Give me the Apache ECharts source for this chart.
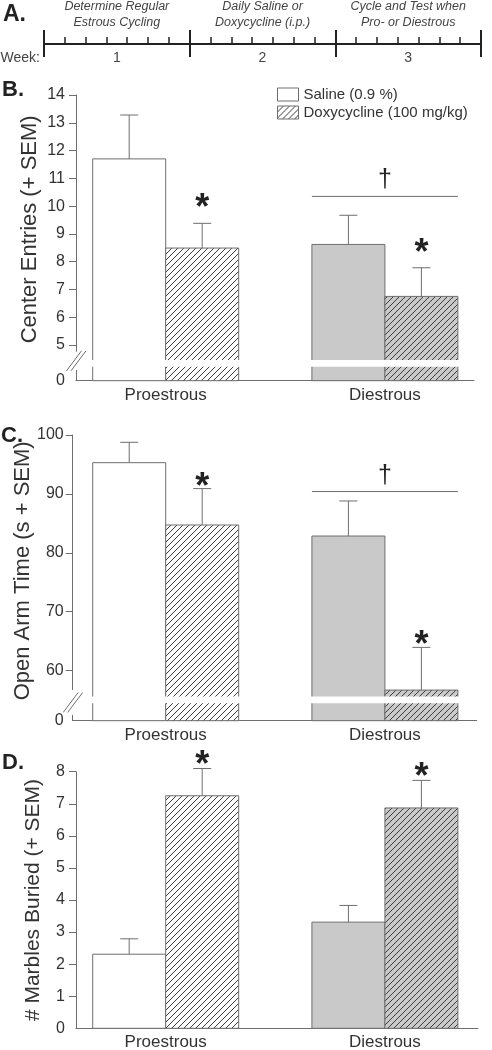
<!DOCTYPE html>
<html><head><meta charset="utf-8">
<script src="https://cdn.jsdelivr.net/npm/echarts@6/dist/echarts.min.js"></script>
<style>html,body{margin:0;padding:0;background:#fff}#c{width:492px;height:1050px}</style>
</head><body><div id="c"></div>
<script>
// ---------- data ----------
const groups = ['Proestrous', 'Diestrous'];
const weeks = ['1', '2', '3'];
const weekTasks = ['Determine Regular\nEstrous Cycling', 'Daily Saline or\nDoxycycline (i.p.)', 'Cycle and Test when\nPro- or Diestrous'];
const seriesNames = ['Saline (0.9 %)', 'Doxycycline (100 mg/kg)'];

const entriesSaline = [11.70, 8.62];
const entriesSalineSem = [1.58, 1.05];
const entriesDoxy = [8.49, 6.75];
const entriesDoxySem = [0.89, 1.03];
const entriesTicks = [5, 6, 7, 8, 9, 10, 11, 12, 13, 14];
const entriesStars = [1, 1];
const entriesDagger = 10.35;   // bracket level over Diestrous

const openArmSaline = [95.3, 82.85];
const openArmSalineSem = [3.46, 5.95];
const openArmDoxy = [84.72, 56.7];
const openArmDoxySem = [6.18, 7.25];
const openArmTicks = [60, 70, 80, 90, 100];
const openArmStars = [1, 1];
const openArmDagger = 90.4;

const marblesSaline = [2.31, 3.31];
const marblesSalineSem = [0.48, 0.52];
const marblesDoxy = [7.25, 6.87];
const marblesDoxySem = [0.85, 0.86];
const marblesTicks = [0, 1, 2, 3, 4, 5, 6, 7, 8];
const marblesStars = [1, 1];

// ---------- style helpers ----------
const FONT = '"Liberation Sans", Arial, sans-serif';
const LINE = '#6e6e6e';
const TXT = '#333';
const GREY = '#c9c9c9';
function hatch(bg) {
  const c = document.createElement('canvas');
  c.width = 6; c.height = 6;
  const g = c.getContext('2d');
  g.fillStyle = bg; g.fillRect(0, 0, 6, 6);
  g.strokeStyle = '#3c3c3c'; g.lineWidth = 1;
  g.beginPath();
  g.moveTo(0, 6); g.lineTo(6, 0);
  g.moveTo(-1, 1); g.lineTo(1, -1);
  g.moveTo(5, 7); g.lineTo(7, 5);
  g.stroke();
  return c;
}
const hatchWhite = { image: hatch('#ffffff'), repeat: 'repeat' };
const hatchGrey = { image: hatch(GREY), repeat: 'repeat' };
const fills = [['#ffffff', hatchWhite], [GREY, hatchGrey]];
const BW = 0.333; // bar width in x units

const panels = [
  { grid: { left: 76, top: 95, width: 398, height: 285.7 }, base: 3.715, max: 14, ticks: entriesTicks,
    xmin: 0.5908, xmax: 2.4065, starOffset: 22, gap: [4.22, 4.46], axisGap: [4.1, 4.76], labelMargin: 11,
    title: 'Center Entries (+ SEM)', nameGap: 35, namePad: 17, nameSize: 22,
    saline: entriesSaline, salineSem: entriesSalineSem, doxy: entriesDoxy, doxySem: entriesDoxySem,
    stars: entriesStars, dagger: entriesDagger, daggerOffset: 16 },
  { grid: { left: 72.7, top: 435, width: 404, height: 285.7 }, base: 51.5, max: 100, ticks: openArmTicks,
    xmin: 0.5757, xmax: 2.4188, starOffset: 9, gap: [54.46, 55.59], axisGap: [52.48, 56.72], labelMargin: 9,
    title: 'Open Arm Time (s + SEM)', nameGap: 38.5, namePad: 14, nameSize: 22,
    saline: openArmSaline, salineSem: openArmSalineSem, doxy: openArmDoxy, doxySem: openArmDoxySem,
    stars: openArmStars, dagger: openArmDagger, daggerOffset: 15 },
  { grid: { left: 76, top: 771.7, width: 402, height: 256.6 }, base: 0, max: 8, ticks: marblesTicks,
    xmin: 0.5908, xmax: 2.4247, starOffset: 10, gap: null, labelMargin: 11,
    title: '# Marbles Buried (+ SEM)', nameGap: 32.5, namePad: 0, nameSize: 21,
    saline: marblesSaline, salineSem: marblesSalineSem, doxy: marblesDoxy, doxySem: marblesDoxySem,
    stars: marblesStars, dagger: null }
];

// ---------- timeline (panel A) ----------
const grids = [{ left: 44, top: 30, width: 437, height: 14, outerBoundsMode: 'none', containLabel: false }];
const xAxes = [
  { gridIndex: 0, type: 'value', min: 0, max: 21, interval: 7, position: 'bottom',
    axisLine: { show: true, lineStyle: { color: '#222', width: 2 } },
    axisTick: { show: true, inside: true, length: 14, lineStyle: { color: '#222', width: 2 } },
    axisLabel: { customValues: [3.5, 10.5, 17.5], formatter: v => weeks[Math.round((v - 3.5) / 7)],
      fontSize: 14, color: '#444', fontFamily: FONT, margin: 7 },
    splitLine: { show: false },
    name: 'Week:', nameLocation: 'start', nameGap: 4, nameMoveOverlap: false,
    nameTextStyle: { fontSize: 14, color: '#444', fontFamily: FONT, align: 'right', verticalAlign: 'top', padding: [7, 0, 0, 0] } },
  { gridIndex: 0, type: 'value', min: 0, max: 21, interval: 7, position: 'bottom',
    axisLine: { show: false }, axisLabel: { show: false }, splitLine: { show: false },
    axisTick: { show: true, inside: false, length: 13, lineStyle: { color: '#222', width: 2 } } },
  { gridIndex: 0, type: 'value', min: 0, max: 21, interval: 1, position: 'bottom',
    axisLine: { show: false }, axisLabel: { show: false }, splitLine: { show: false },
    axisTick: { show: true, inside: true, length: 7, lineStyle: { color: '#222', width: 1.5 } } },
  { gridIndex: 0, type: 'value', min: 0, max: 21, interval: 7, position: 'top',
    axisLine: { show: false }, axisTick: { show: false }, splitLine: { show: false },
    axisLabel: { customValues: [3.5, 10.5, 17.5], formatter: v => weekTasks[Math.round((v - 3.5) / 7)],
      fontSize: 12.5, lineHeight: 16.5, fontStyle: 'italic', color: '#444', fontFamily: FONT, margin: -1 } }
];
const yAxes = [{ gridIndex: 0, type: 'value', min: 0, max: 1, show: false }];
const series = [];

panels.forEach((p, k) => {
  const gi = k + 1;
  grids.push(Object.assign({ outerBoundsMode: 'none', containLabel: false }, p.grid));
  const xi = xAxes.length, yi = yAxes.length;
  xAxes.push({ gridIndex: gi, type: 'value', min: p.xmin, max: p.xmax,
    axisLine: { show: true, onZero: false, lineStyle: { color: LINE, width: 1 } },
    axisTick: { show: false }, splitLine: { show: false },
    axisLabel: { customValues: [1, 2], formatter: v => groups[Math.round(v) - 1], fontSize: 17, color: TXT, fontFamily: FONT, margin: 6 } });
  const labelVals = p.base === p.ticks[0] ? p.ticks : [p.base].concat(p.ticks);
  yAxes.push({ gridIndex: gi, type: 'value', min: p.base, max: p.max,
    axisLine: { show: true, lineStyle: { color: LINE, width: 1 } },
    axisTick: { show: true, length: 7, customValues: p.ticks.filter(t => t !== p.base), lineStyle: { color: LINE } },
    axisLabel: { customValues: labelVals, formatter: v => Math.abs(v - p.base) < 1e-6 ? '0' : String(v),
      fontSize: 16, color: TXT, fontFamily: FONT, margin: p.labelMargin },
    splitLine: { show: false },
    name: p.title, nameLocation: 'middle', nameRotate: 90, nameGap: p.nameGap, nameMoveOverlap: false,
    nameTextStyle: { fontSize: p.nameSize, color: TXT, fontFamily: FONT, padding: [0, 0, 0, p.namePad] } });

  [[p.saline, p.salineSem, null], [p.doxy, p.doxySem, p.stars]].forEach((d, si) => {
    series.push({
      type: 'custom', name: seriesNames[si], xAxisIndex: xi, yAxisIndex: yi, z: 2, clip: false,
      data: d[0].map((m, i) => [i + 1, m, d[1][i], d[2] ? d[2][i] : 0]),
      renderItem(params, api) {
        const x = api.value(0), m = api.value(1), s = api.value(2), st = api.value(3);
        const g = Math.round(x) - 1;
        const x0 = si === 0 ? x - BW : x, x1 = si === 0 ? x : x + BW;
        const p0 = api.coord([x0, m]), p1 = api.coord([x1, p.base]);
        const xc = api.coord([(x0 + x1) / 2, m])[0];
        const top = api.coord([x, m + s])[1];
        const ch = [
          { type: 'rect', shape: { x: p0[0], y: p0[1], width: p1[0] - p0[0], height: p1[1] - p0[1] },
            style: { fill: fills[g][si], stroke: LINE, lineWidth: 1 } },
          { type: 'line', shape: { x1: xc, y1: p0[1], x2: xc, y2: top }, style: { stroke: LINE, lineWidth: 1 } },
          { type: 'line', shape: { x1: xc - 9, y1: top, x2: xc + 9, y2: top }, style: { stroke: LINE, lineWidth: 1 } }
        ];
        if (st) ch.push({ type: 'text', style: { text: '*', x: xc, y: top - p.starOffset + 8,
          fill: '#222', font: 'bold 36px ' + FONT, align: 'center', verticalAlign: 'middle' } });
        return { type: 'group', children: ch };
      }
    });
  });

  if (p.dagger != null) {
    series.push({ type: 'custom', xAxisIndex: xi, yAxisIndex: yi, z: 3, clip: false, silent: true,
      data: [[2, p.dagger]],
      renderItem(params, api) {
        const x = api.value(0), lv = api.value(1);
        const a = api.coord([x - BW, lv]), b = api.coord([x + BW, lv]);
        return { type: 'group', children: [
          { type: 'line', shape: { x1: a[0], y1: a[1], x2: b[0], y2: b[1] }, style: { stroke: LINE, lineWidth: 1 } },
          { type: 'text', style: { text: '†', x: (a[0] + b[0]) / 2, y: a[1] - p.daggerOffset,
            font: '25px ' + FONT, fill: '#222', align: 'center', verticalAlign: 'middle' } }
        ] };
      } });
  }
  if (p.gap) {
    series.push({ type: 'custom', xAxisIndex: xi, yAxisIndex: yi, z: 4, clip: false, silent: true,
      data: [[p.gap[0], p.gap[1], p.axisGap[0], p.axisGap[1]]],
      renderItem(params, api) {
        const lo = api.value(0), hi = api.value(1), alo = api.value(2), ahi = api.value(3);
        const b0 = api.coord([p.xmin, hi]), b1 = api.coord([p.xmax, lo]);
        const a0 = api.coord([p.xmin, ahi]), a1 = api.coord([p.xmin, alo]);
        const cx = a0[0], cy = (a0[1] + a1[1]) / 2;
        const mk = dx => ({ type: 'line', shape: { x1: cx - 7.5 + dx, y1: cy + 10, x2: cx + 7.5 + dx, y2: cy - 10 },
          style: { stroke: LINE, lineWidth: 1 } });
        return { type: 'group', children: [
          { type: 'rect', shape: { x: b0[0] + 2, y: b0[1], width: b1[0] - b0[0] - 2, height: b1[1] - b0[1] }, style: { fill: '#fff' } },
          { type: 'rect', shape: { x: cx - 3, y: a0[1], width: 6, height: a1[1] - a0[1] }, style: { fill: '#fff' } },
          mk(-2), mk(2.5)
        ] };
      } });
  }
});

const chart = echarts.init(document.getElementById('c'), null, { renderer: 'canvas' });
chart.setOption({
  animation: false,
  backgroundColor: '#fff',
  textStyle: { fontFamily: FONT },
  title: [
    { text: 'A.', left: 3, top: 3, padding: 0, textStyle: { fontSize: 23, fontWeight: 'bold', color: '#222', fontFamily: FONT } },
    { text: 'B.', left: 2, top: 78.5, padding: 0, textStyle: { fontSize: 22, fontWeight: 'bold', color: '#222', fontFamily: FONT } },
    { text: 'C.', left: 1, top: 425, padding: 0, textStyle: { fontSize: 22, fontWeight: 'bold', color: '#222', fontFamily: FONT } },
    { text: 'D.', left: 2, top: 752, padding: 0, textStyle: { fontSize: 22, fontWeight: 'bold', color: '#222', fontFamily: FONT } }
  ],
  legend: {
    orient: 'vertical', left: 277, top: 87, padding: 0, itemWidth: 21, itemHeight: 13, itemGap: 3, selectedMode: false,
    textStyle: { fontSize: 15, color: TXT, fontFamily: FONT },
    data: [
      { name: seriesNames[0], icon: 'rect', itemStyle: { color: '#fff', borderColor: LINE, borderWidth: 1 } },
      { name: seriesNames[1], icon: 'rect', itemStyle: { color: hatchWhite, borderColor: LINE, borderWidth: 1 } }
    ]
  },
  grid: grids,
  xAxis: xAxes,
  yAxis: yAxes,
  series: series
});
</script>
</body></html>
